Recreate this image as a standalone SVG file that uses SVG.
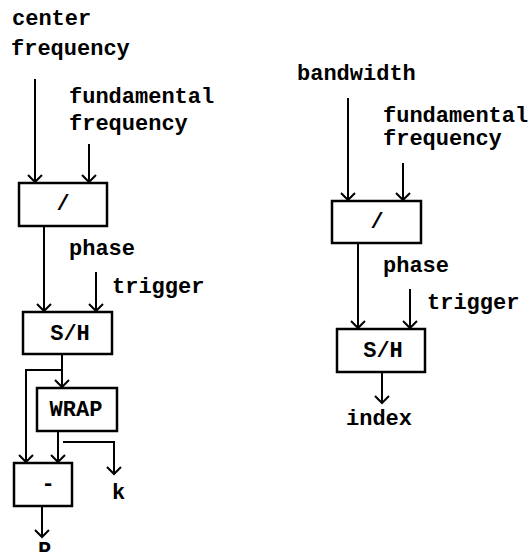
<svg xmlns="http://www.w3.org/2000/svg" width="532" height="552" viewBox="0 0 532 552">
<style>
text{font-family:"Liberation Mono","Courier New",monospace;font-weight:bold;font-size:22px;fill:#000}
.c{text-anchor:middle}
rect{fill:#fff;stroke:#000;stroke-width:2.5}
.w line,.w path{stroke:#000;stroke-width:2;fill:none}
</style>
<defs>
<marker id="a" markerUnits="userSpaceOnUse" markerWidth="16" markerHeight="16" viewBox="-8 -8 16 16" refX="0" refY="0" orient="auto">
<path d="M-7,-7 L0,0 L-7,7" fill="none" stroke="#000" stroke-width="2"/>
</marker>
</defs>
<g id="labels">
<text x="12" y="25">center</text>
<text x="11" y="55">frequency</text>
<text x="69" y="103">fundamental</text>
<text x="69" y="130">frequency</text>
<text x="69" y="255">phase</text>
<text x="112" y="293">trigger</text>
<text x="112" y="499">k</text>
<text x="38" y="557">P</text>
<text x="297" y="80">bandwidth</text>
<text x="383" y="122">fundamental</text>
<text x="383" y="145">frequency</text>
<text x="383" y="272">phase</text>
<text x="427" y="309">trigger</text>
<text x="346" y="425">index</text>
</g>
<g id="connectors" class="w">
<line x1="35" y1="79" x2="35" y2="182" marker-end="url(#a)"/>
<line x1="89" y1="144" x2="89" y2="182" marker-end="url(#a)"/>
<line x1="44" y1="226" x2="44" y2="311" marker-end="url(#a)"/>
<line x1="96" y1="272" x2="96" y2="311" marker-end="url(#a)"/>
<line x1="62" y1="354" x2="62" y2="387" marker-end="url(#a)"/>
<path d="M62,370 H26 V462" marker-end="url(#a)"/>
<line x1="58" y1="431" x2="58" y2="462" marker-end="url(#a)"/>
<path d="M63,442 H114 V474" marker-end="url(#a)"/>
<line x1="42" y1="506" x2="42" y2="537" marker-end="url(#a)"/>
<line x1="348" y1="98" x2="348" y2="200" marker-end="url(#a)"/>
<line x1="403" y1="163" x2="403" y2="200" marker-end="url(#a)"/>
<line x1="358" y1="243" x2="358" y2="328" marker-end="url(#a)"/>
<line x1="410" y1="289" x2="410" y2="328" marker-end="url(#a)"/>
<line x1="382" y1="372" x2="382" y2="403" marker-end="url(#a)"/>
</g>
<g id="div1"><rect x="19" y="183" width="88" height="43"/><text class="c" x="63" y="210">/</text></g>
<g id="sh1"><rect x="23" y="312" width="89" height="42"/><text class="c" x="70" y="340">S/H</text></g>
<g id="wrap"><rect x="37" y="388" width="80" height="43"/><text class="c" x="76" y="416">WRAP</text></g>
<g id="minus"><rect x="14" y="463" width="58" height="43"/><text class="c" x="48" y="490">-</text></g>
<g id="div2"><rect x="332" y="201" width="89" height="42"/><text class="c" x="377" y="228">/</text></g>
<g id="sh2"><rect x="337" y="329" width="88" height="43"/><text class="c" x="383" y="357">S/H</text></g>
</svg>
